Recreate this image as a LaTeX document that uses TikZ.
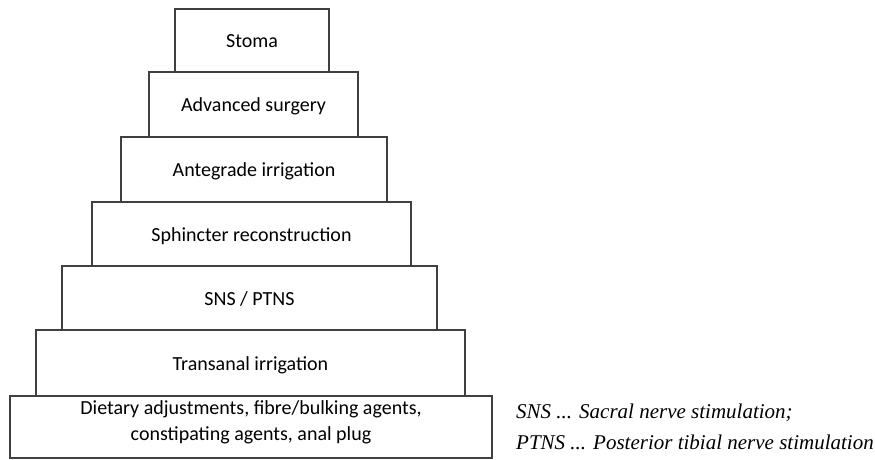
\documentclass[tikz,border=0pt]{standalone}
\usepackage{fontspec}
\setmainfont{Carlito}
\newfontfamily\legendfont{Liberation Serif}
\begin{document}
\begin{tikzpicture}[x=1pt,y=-1pt,
  tier/.style={draw=black!75, line width=1.4pt, rectangle, inner sep=0pt,
    font=\fontsize{20}{24}\selectfont, text height=14pt, text depth=0pt},
  tiertext/.style={inner sep=0pt, font=\fontsize{20}{24}\selectfont, anchor=base},
  legendtext/.style={inner sep=0pt, anchor=base west,
    font=\legendfont\itshape\fontsize{21}{24}\selectfont}]
\useasboundingbox (0,0) rectangle (875,459);
\node[tier, minimum width=154pt, minimum height=63pt] (stoma) at (252,40.5) {Stoma};
\node[tier, minimum width=209pt, minimum height=65pt] (adv) at (253.5,104.5) {Advanced surgery};
\node[tier, minimum width=266pt, minimum height=65pt] (ante) at (254,169.5) {Antegrade irrigation};
\node[tier, minimum width=319pt, minimum height=64pt] (sph) at (251.5,234) {Sphincter reconstruction};
\node[tier, minimum width=375pt, minimum height=64pt] (sns) at (249.5,298) {SNS / PTNS};
\node[tier, minimum width=429pt, minimum height=66pt] (trans) at (250.5,363) {Transanal irrigation};
\node[tier, minimum width=482pt, minimum height=62pt] (diet) at (251,427) {};
\node[tiertext] (dietA) at (251,414.5) {Dietary adjustments, fibre/bulking agents,};
\node[tiertext] (dietB) at (251,440) {constipating agents, anal plug};
\node[legendtext] (legA) at (516,418) {SNS ... Sacral nerve stimulation;};
\node[legendtext] (legB) at (516,449) {PTNS ... Posterior tibial nerve stimulation};
\end{tikzpicture}
\end{document}
